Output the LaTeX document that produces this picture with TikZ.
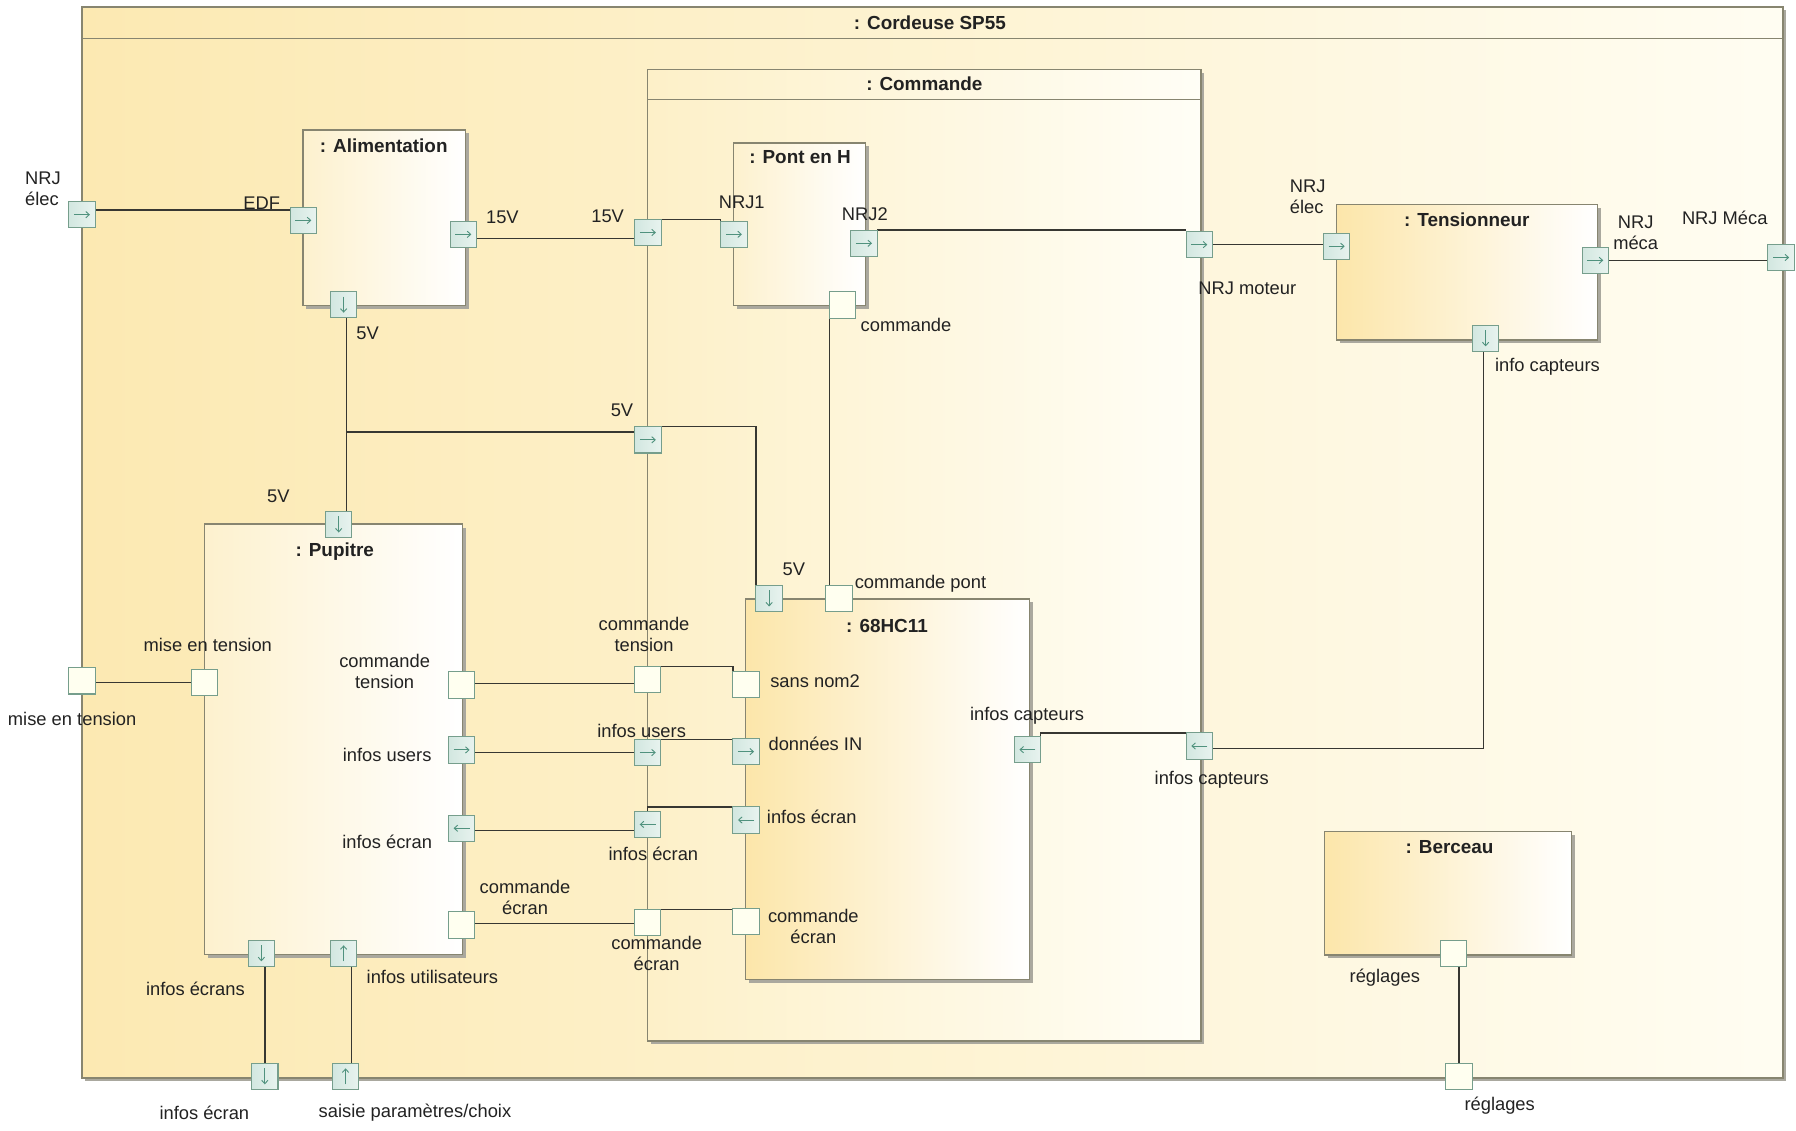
\documentclass[tikz,border=0pt]{standalone}
\usepackage{fontspec}
\setmainfont{Liberation Sans}
\usetikzlibrary{arrows.meta,shadows}
\definecolor{txtc}{RGB}{34,34,34}
\definecolor{brd}{RGB}{135,133,112}
\definecolor{shd}{RGB}{170,168,158}
\definecolor{wirec}{RGB}{55,55,50}
\definecolor{pbrd}{RGB}{118,158,140}
\definecolor{pfill}{RGB}{210,231,224}
\definecolor{pfillB}{RGB}{232,243,239}
\definecolor{efill}{RGB}{255,255,240}
\definecolor{parc}{RGB}{80,146,126}
\definecolor{bgL}{RGB}{252,233,178}
\definecolor{bgR}{RGB}{255,253,242}
\definecolor{cmdL}{RGB}{253,240,200}
\definecolor{cmdR}{RGB}{255,254,246}
\definecolor{boxL}{RGB}{252,230,170}
\definecolor{boxP}{RGB}{253,241,206}
\pgfdeclarelayer{background}
\pgfdeclarelayer{wires}
\pgfsetlayers{background,wires,main}
\begin{document}
\begin{tikzpicture}[x=1pt,y=-1pt,
  lbl/.style={font=\fontsize{16}{18.5}\selectfont, inner sep=0pt, text=txtc},
  ttl/.style={font=\bfseries\fontsize{16.5}{19}\selectfont, inner sep=0pt, text=txtc},
  blk/.style={draw=brd, line width=1.1pt, anchor=north west, inner sep=0pt,
    drop shadow={shadow xshift=3pt, shadow yshift=-3pt, fill=shd, opacity=1}},
  frm/.style={blk, left color=bgL, right color=bgR},
  cmdfrm/.style={blk, left color=cmdL, right color=cmdR},
  strongbox/.style={blk, left color=boxL, right color=white},
  palebox/.style={blk, left color=boxP, right color=white},
  port/.style={draw=pbrd, line width=0.9pt, minimum size=23pt, inner sep=0pt, outer sep=0pt},
  eport/.style={port, fill=efill},
  aport/.style={port, left color=pfill, right color=pfillB},
  parr/.style={draw=parc, line width=0.8pt, -{Straight Barb[length=3pt,width=5.5pt]}},
  pR/.style={aport, path picture={\draw[parr] ([xshift=-7pt]path picture bounding box.center) -- ([xshift=7pt]path picture bounding box.center);}},
  pL/.style={aport, path picture={\draw[parr] ([xshift=7pt]path picture bounding box.center) -- ([xshift=-7pt]path picture bounding box.center);}},
  pD/.style={aport, path picture={\draw[parr] ([yshift=7pt]path picture bounding box.center) -- ([yshift=-7pt]path picture bounding box.center);}},
  pU/.style={aport, path picture={\draw[parr] ([yshift=-7pt]path picture bounding box.center) -- ([yshift=7pt]path picture bounding box.center);}},
  wire/.style={draw=wirec, line width=1.2pt},
  sep/.style={draw=brd, line width=1.1pt}
]
\useasboundingbox (0,0) rectangle (1568,987);

% ---------- blocks ----------
\begin{pgfonlayer}{background}
\fill[white] (0,0) rectangle (1568,987);
\node[frm, minimum width=1485pt, minimum height=935pt] (cordeuse) at (71,5.5) {};
\draw[sep] ([yshift=-28pt]cordeuse.north west) -- ([yshift=-28pt]cordeuse.north east);
\node[cmdfrm, minimum width=483pt, minimum height=848pt] (commande) at (565,60.2) {};
\draw[sep] ([yshift=-26.5pt]commande.north west) -- ([yshift=-26.5pt]commande.north east);
\node[palebox, minimum width=142pt, minimum height=153pt] (alim) at (264,113) {};
\node[palebox, minimum width=115pt, minimum height=142pt] (pont) at (640,124.3) {};
\node[palebox, minimum width=225.5pt, minimum height=376pt] (pupitre) at (178,457) {};
\node[strongbox, minimum width=247.5pt, minimum height=332pt] (hc) at (650.5,522.4) {};
\node[strongbox, minimum width=228pt, minimum height=118.5pt] (tens) at (1166,177.8) {};
\node[strongbox, minimum width=216pt, minimum height=107.7pt] (berceau) at (1155.6,725.5) {};
\end{pgfonlayer}

% ---------- block titles ----------
\node[ttl] (tCordeuse) at (811.8,19.5) {: Cordeuse SP55};
\node[ttl] (tCommande) at (807,72.8) {: Commande};
\node[ttl] (tAlim) at (335,127) {: Alimentation};
\node[ttl] (tPont) at (698.5,137.4) {: Pont en H};
\node[ttl] (tPupitre) at (292.3,481.7) {: Pupitre};
\node[ttl] (tHc) at (774.4,546.3) {: 68HC11};
\node[ttl] (tTens) at (1280.6,191.5) {: Tensionneur};
\node[ttl] (tBerceau) at (1265.5,739.2) {: Berceau};

% ---------- ports ----------
\node[pR] (pNrjIn) at (71.5,187.4) {};
\node[pR] (pEdf) at (264.8,192.4) {};
\node[pR] (p15a) at (404.5,204.6) {};
\node[pD] (p5a) at (300,266) {};
\node[pR] (p15c) at (565.6,203) {};
\node[pR] (pNrj1) at (640.7,204.6) {};
\node[pR] (pNrj2) at (754.3,212.4) {};
\node[eport] (pCmd) at (735.6,266.3) {};
\node[pR] (pMot) at (1047,213.6) {};
\node[pR] (pTe) at (1167,215) {};
\node[pR] (pMeca) at (1392.7,227.3) {};
\node[pR] (pMecaOut) at (1555,224.8) {};
\node[pD] (pIc) at (1297,295.4) {};
\node[pR] (p5c) at (565.6,384) {};
\node[pD] (p5p) at (295.7,457.9) {};
\node[pD] (p5h) at (671.5,522.5) {};
\node[eport] (pCp) at (732.6,522.5) {};
\node[eport] (pMt) at (71.5,594.4) {};
\node[eport] (pMtP) at (178.7,596) {};
\node[eport] (pCtP) at (403,598) {};
\node[eport] (pCtF) at (565.5,593.3) {};
\node[eport] (pSn) at (651.3,597.5) {};
\node[pR] (pIuP) at (403,654.7) {};
\node[pR] (pIuF) at (565.5,657) {};
\node[pR] (pDi) at (651.3,656.2) {};
\node[pL] (pIeP) at (403,723.1) {};
\node[pL] (pIeF) at (565.5,719.8) {};
\node[pL] (pIeH) at (651.3,715.9) {};
\node[eport] (pCeP) at (403,807.5) {};
\node[eport] (pCeF) at (565.5,805.5) {};
\node[eport] (pCeH) at (651.3,804.6) {};
\node[pL] (pIcH) at (897,654.5) {};
\node[pL] (pIcF) at (1047.1,651.3) {};
\node[pD] (pIesP) at (228.2,832.3) {};
\node[pU] (pIutP) at (300,832.3) {};
\node[pD] (pIeO) at (231.2,939.7) {};
\node[pU] (pSaO) at (301.7,939.7) {};
\node[eport] (pRgB) at (1269.2,832.3) {};
\node[eport] (pRgO) at (1273.9,939.7) {};

% ---------- connectors ----------
\coordinate (j5) at ([xshift=2.5pt]p5a.south);
\begin{pgfonlayer}{wires}
\begin{scope}[wire]
\draw ([yshift=4pt]pNrjIn.east) -- ([yshift=4pt]pNrjIn.east -| pEdf.west);
\draw ([yshift=-3.5pt]p15a.east) -- ([yshift=-3.5pt]p15a.east -| p15c.west);
\draw (p15c.north east) -- (p15c.north east -| pNrj1.north west) -- (pNrj1.north west);
\draw (pNrj2.north east) -- (pNrj2.north east -| pMot.north west);
\draw (pMot.east) -- (pMot.east -| pTe.west);
\draw (pMeca.east) -- (pMeca.east -| pMecaOut.west);
\draw (j5) -- (j5 |- p5p.north);
\draw ([yshift=7pt]p5c.west) -- ([yshift=7pt]p5c.west -| j5);
\draw (p5c.north east) -| (p5h.north west);
\draw (pCmd.south west) -- (pCmd.south west |- pCp.north);
\draw ([xshift=-2pt]pIc.south) |- ([yshift=-2pt]pIcF.east);
\draw (pIcF.north west) -- (pIcF.north west -| pIcH.north east) -- (pIcH.north east);
\draw (pMtP.west) -- (pMtP.west -| pMt.east);
\draw ([yshift=1.4pt]pCtP.east) -- ([yshift=1.4pt]pCtP.east -| pCtF.west);
\draw (pCtF.north east) -| (pSn.north west);
\draw ([yshift=-2pt]pIuP.east) -- ([yshift=-2pt]pIuP.east -| pIuF.west);
\draw (pIuF.north east) -| (pDi.north west);
\draw ([yshift=-2pt]pIeP.east) -- ([yshift=-2pt]pIeP.east -| pIeF.west);
\draw (pIeF.north) |- (pIeH.north west);
\draw ([yshift=1.4pt]pCeP.east) -- ([yshift=1.4pt]pCeP.east -| pCeF.west);
\draw (pCeF.north west) -- (pCeF.north west -| pCeH.north west);
\draw (pIeO.north) -- (pIeO.north |- pIesP.south);
\draw ([xshift=5pt]pSaO.north) -- ([xshift=5pt]pSaO.north |- pIutP.south);
\draw (pRgO.north) -- (pRgO.north |- pRgB.south);
\end{scope}
\end{pgfonlayer}

% ---------- port labels ----------
\node[lbl, align=left, anchor=west] (lNrjIn) at (21.7,164.7) {NRJ\\élec};
\node[lbl] (lEdf) at (228.5,177.5) {EDF};
\node[lbl] (l15a) at (438.6,189.8) {15V};
\node[lbl] (l15c) at (530.5,188.5) {15V};
\node[lbl] (lNrj1) at (647.6,176.5) {NRJ1};
\node[lbl] (lNrj2) at (755,186.8) {NRJ2};
\node[lbl] (lCmd) at (791,283.8) {commande};
\node[lbl] (lMot) at (1089,251.8) {NRJ moteur};
\node[lbl, align=left, anchor=west] (lTe) at (1126,172) {NRJ\\élec};
\node[lbl] (lIc) at (1351,320) {info capteurs};
\node[lbl, align=center] (lMeca) at (1428,203) {NRJ\\méca};
\node[lbl] (lMecaOut) at (1505.8,190.6) {NRJ Méca};
\node[lbl] (l5a) at (321,291) {5V};
\node[lbl] (l5c) at (543,358.6) {5V};
\node[lbl] (l5p) at (243,433.7) {5V};
\node[lbl] (l5h) at (693,497.1) {5V};
\node[lbl] (lCp) at (803.6,509.3) {commande pont};
\node[lbl] (lMtP) at (181.4,563.2) {mise en tension};
\node[lbl] (lMt) at (63,627.8) {mise en tension};
\node[lbl, align=center] (lCtP) at (335.8,586) {commande\\tension};
\node[lbl, align=center] (lCtF) at (562.3,553.6) {commande\\tension};
\node[lbl, anchor=west] (lSn) at (672.3,595.1) {sans nom2};
\node[lbl] (lIuP) at (338,659) {infos users};
\node[lbl] (lIuF) at (560.2,638.2) {infos users};
\node[lbl, anchor=west] (lDi) at (670.8,649) {données IN};
\node[lbl] (lIeP) at (338,734.8) {infos écran};
\node[lbl] (lIeF) at (570.4,745.6) {infos écran};
\node[lbl, anchor=west] (lIeH) at (669.4,713) {infos écran};
\node[lbl, align=center] (lCeP) at (458.4,783.5) {commande\\écran};
\node[lbl, align=center] (lCeF) at (573.3,832.6) {commande\\écran};
\node[lbl, align=center] (lCeH) at (710.1,809) {commande\\écran};
\node[lbl] (lIcH) at (896.7,624.8) {infos capteurs};
\node[lbl] (lIcF) at (1057.9,681) {infos capteurs};
\node[lbl] (lIesP) at (170.6,863.7) {infos écrans};
\node[lbl] (lIutP) at (377.5,853.3) {infos utilisateurs};
\node[lbl] (lIeO) at (178.4,971.4) {infos écran};
\node[lbl] (lSaO) at (362.3,971.4) {saisie paramètres/choix};
\node[lbl] (lRgB) at (1209,853.3) {réglages};
\node[lbl] (lRgO) at (1309.3,965.3) {réglages};
\end{tikzpicture}
\end{document}
